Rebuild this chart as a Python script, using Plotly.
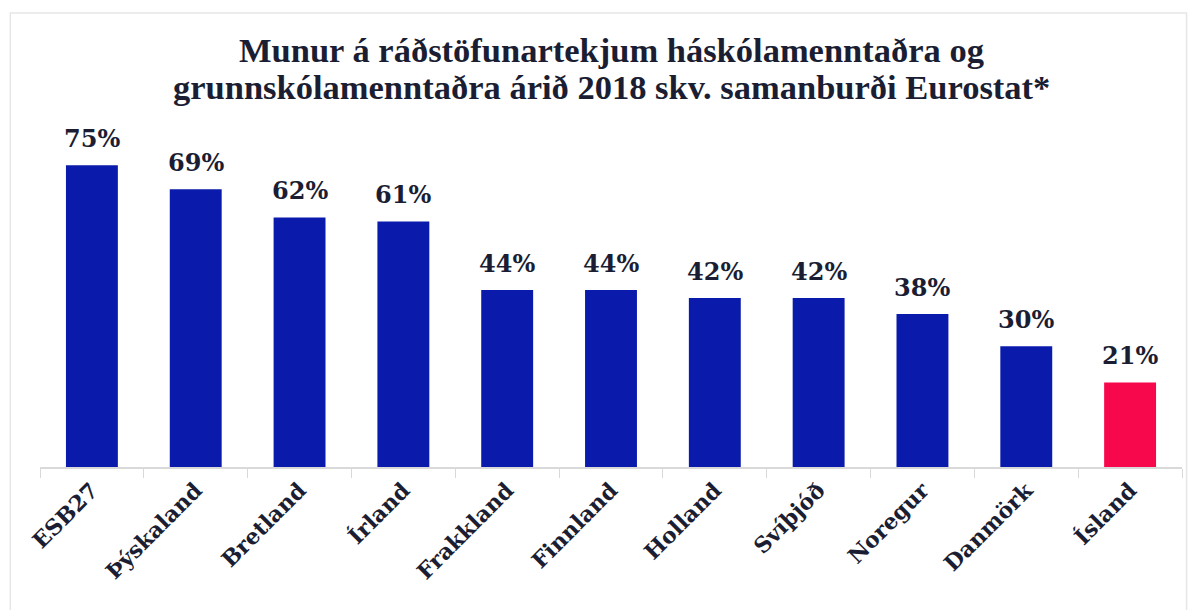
import plotly.graph_objects as go

categories = ["ESB27", "Þýskaland", "Bretland", "Írland", "Frakkland", "Finnland",
              "Holland", "Svíþjóð", "Noregur", "Danmörk", "Ísland"]
values = [75, 69, 62, 61, 44, 44, 42, 42, 38, 30, 21]
labels = [f"{v}%" for v in values]
title_lines = ["Munur á ráðstöfunartekjum háskólamenntaðra og",
               "grunnskólamenntaðra árið 2018 skv. samanburði Eurostat*"]
blue = "#0A1BAC"
red = "#F7074B"
colors = [blue] * (len(categories) - 1) + [red]
ink = "#1B1E33"

fig = go.Figure(go.Bar(
    x=categories, y=values, marker=dict(color=colors, line=dict(width=0)),
    cliponaxis=False, hoverinfo="x+y",
))

annotations = []
for c, v, t in zip(categories, values, labels):
    annotations.append(dict(x=c, y=v, xref="x", yref="y", text="<b>" + t + "</b>",
                            showarrow=False, yanchor="bottom", yshift=10,
                            font=dict(family="DejaVu Serif", size=24, color=ink)))

for i, line in enumerate(title_lines):
    annotations.append(dict(x=0.5, xref="paper", y=[1.295, 1.18][i], yref="paper",
                            text="<b>" + line + "</b>", showarrow=False,
                            xanchor="center", yanchor="middle",
                            font=dict(family="Liberation Serif", size=34.5, color=ink)))

fig.update_layout(
    width=1200, height=610,
    margin=dict(l=32, r=26, t=137, b=151),
    paper_bgcolor="white", plot_bgcolor="white",
    bargap=0.5,
    showlegend=False,
    annotations=annotations,
    xaxis=dict(showline=True, linecolor="#D9D9D9", linewidth=1.5,
               tickson="boundaries", ticks="outside", ticklen=9, tickcolor="#D9D9D9",
               tickangle=-45, showgrid=False, tickprefix="<b>", ticksuffix="</b>",
               tickfont=dict(family="DejaVu Serif", size=22, color=ink)),
    yaxis=dict(range=[0, 80], visible=False, showgrid=False),
    shapes=[dict(type="rect", xref="paper", yref="paper",
                 x0=-0.026, x1=1.004, y0=-0.62, y1=1.41,
                 line=dict(color="#E6E6E6", width=1.5), layer="below")],
)

fig.write_html("out.html")
